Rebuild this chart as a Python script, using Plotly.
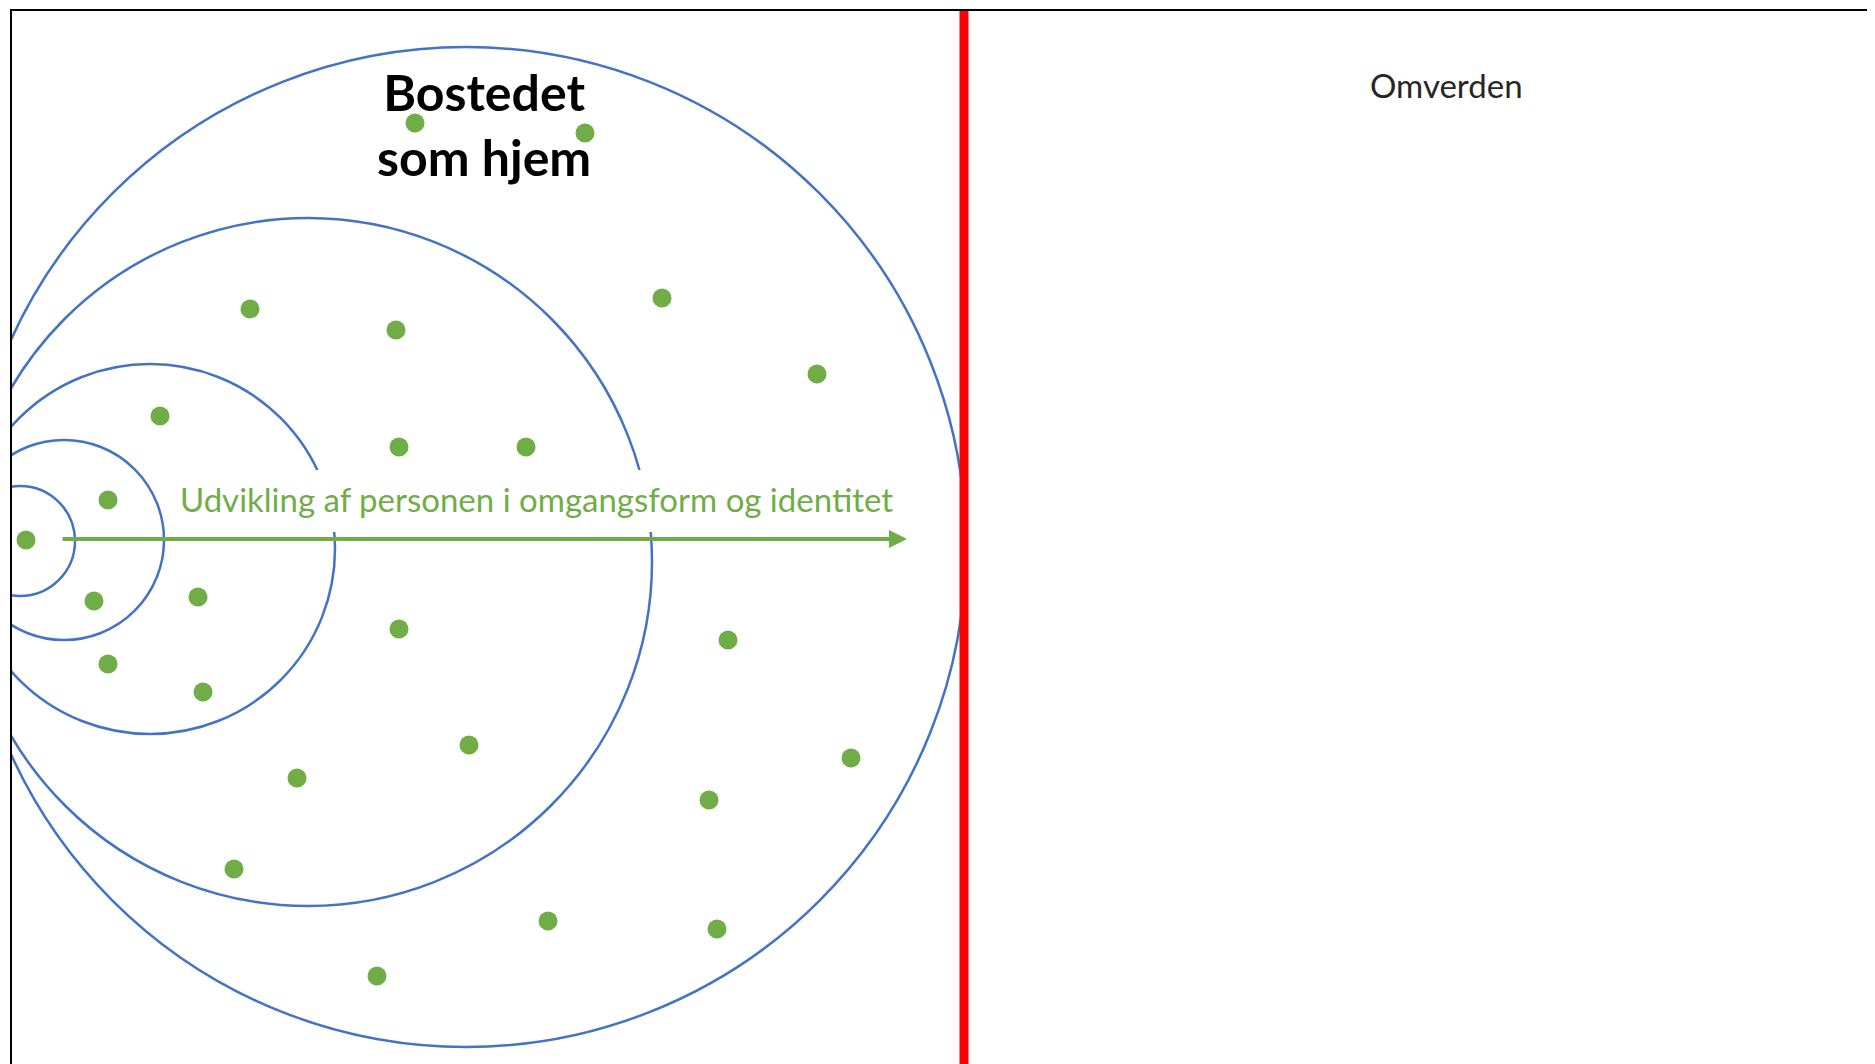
import plotly.graph_objects as go

W, H = 1875, 1064
BODY = 8  # default page margin of the html body

# Concentric "home" circles: centre x, centre y, radius (diagram units = page pixels)
circle_cx = [466, 308, 150, 64, 20]
circle_cy = [547, 562, 549, 540, 541]
circle_r = [500, 344, 185, 100, 55]

# Green dots (people / places)
dot_x = [415, 585, 250, 396, 662, 817, 160, 399, 526, 108, 26, 94, 198, 108, 203,
         399, 728, 469, 297, 851, 709, 234, 548, 717, 377]
dot_y = [123, 133, 309, 330, 298, 374, 416, 447, 447, 500, 540, 601, 597, 664, 692,
         629, 640, 745, 778, 758, 800, 869, 921, 929, 976]

title_text = "Bostedet<br>som hjem"
arrow_text = "Udvikling af personen i omgangsform og identitet"
outer_text = "Omverden"

arrow_start = (61, 539)
arrow_end = (907, 539)
boundary_x = 964

BLUE = "#4472C4"
GREEN = "#70AD47"

fig = go.Figure()
fig.add_trace(go.Scatter(
    x=dot_x, y=dot_y, mode="markers",
    marker=dict(size=19, color=GREEN, line=dict(width=0)),
    hoverinfo="skip", showlegend=False))

shapes = []
for cx, cy, r in zip(circle_cx, circle_cy, circle_r):
    shapes.append(dict(type="circle", xref="x", yref="y",
                       x0=cx - r, x1=cx + r, y0=cy - r, y1=cy + r,
                       line=dict(color=BLUE, width=2.5), layer="below"))
# white text box masking the circles behind the label
shapes.append(dict(type="rect", xref="x", yref="y", x0=227, x1=910, y0=470, y1=532,
                   fillcolor="white", line=dict(width=0), layer="below"))
# red boundary
shapes.append(dict(type="line", xref="x", yref="y", x0=boundary_x, x1=boundary_x,
                   y0=8, y1=1100, line=dict(color="#FF0000", width=9), layer="above"))
# frame
shapes.append(dict(type="rect", xref="paper", yref="paper", x0=0, x1=1.2, y0=-0.2, y1=1,
                   line=dict(color="black", width=2), layer="above"))

annotations = [
    dict(x=484, y=124, xref="x", yref="y", text="<b>" + title_text + "</b>",
         showarrow=False, font=dict(family="Lato", size=50, color="black"),
         xanchor="center", yanchor="middle"),
    dict(x=536, y=499, xref="x", yref="y", text=arrow_text, showarrow=False,
         font=dict(family="Lato", size=33, color=GREEN), xanchor="center", yanchor="middle"),
    dict(x=1446, y=85, xref="x", yref="y", text=outer_text, showarrow=False,
         font=dict(family="Lato", size=33, color="#262626"), xanchor="center", yanchor="middle"),
    dict(x=arrow_end[0], y=arrow_end[1], ax=arrow_start[0], ay=arrow_start[1],
         xref="x", yref="y", axref="x", ayref="y", text="", showarrow=True,
         arrowhead=2, arrowsize=0.9, arrowwidth=4, arrowcolor=GREEN, standoff=0),
]

ml, mt = 11 - BODY, 10 - BODY
fig.update_layout(
    width=W, height=H,
    margin=dict(l=ml, r=0, t=mt, b=0, pad=0),
    paper_bgcolor="white", plot_bgcolor="white",
    xaxis=dict(range=[11, W + BODY], visible=False, fixedrange=True),
    yaxis=dict(range=[H + BODY, 10], visible=False, fixedrange=True),
    shapes=shapes, annotations=annotations, showlegend=False,
)
fig.write_html("out.html", config={"displayModeBar": False})
